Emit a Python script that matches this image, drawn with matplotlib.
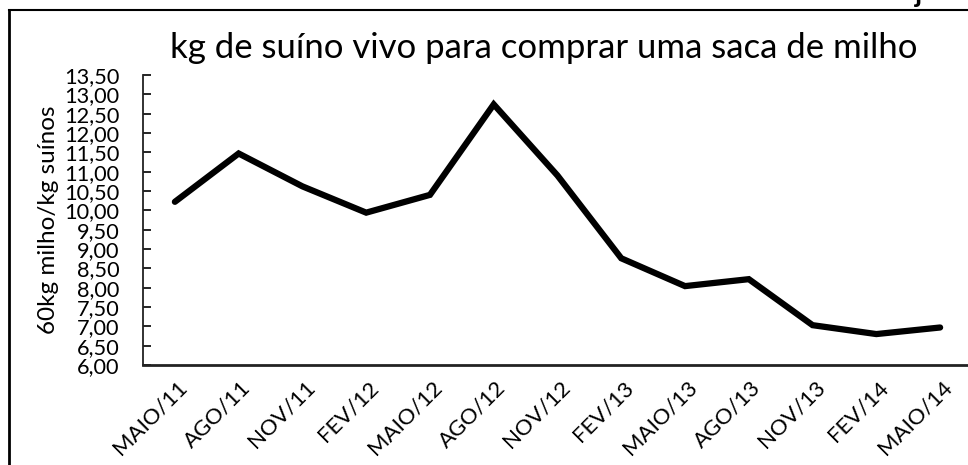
import matplotlib.pyplot as plt
from matplotlib.lines import Line2D
from matplotlib.transforms import ScaledTranslation

meses = ["MAIO/11", "AGO/11", "NOV/11", "FEV/12", "MAIO/12", "AGO/12", "NOV/12",
         "FEV/13", "MAIO/13", "AGO/13", "NOV/13", "FEV/14", "MAIO/14"]
kg_suino = [10.22, 11.47, 10.62, 9.94, 10.40, 12.74, 10.90,
            8.76, 8.04, 8.22, 7.03, 6.80, 6.97]
y_ticks = [6.0 + 0.5 * i for i in range(16)]

plt.rcParams["font.family"] = ["Lato", "DejaVu Sans"]

fig = plt.figure(figsize=(9.68, 4.65), dpi=100)
W, H = 968, 465

# axes: y axis at x=143, x axis at y=365, top (13,50) at y=75
ax = fig.add_axes([143 / W, 1 - 365 / H, (972 - 143) / W, (365 - 75) / H])
x = list(range(len(meses)))
ax.plot(x, kg_suino, color="black", lw=4.5, solid_joinstyle="miter", solid_capstyle="round")

ax.set_xlim(-0.5, 12.5)
ax.set_ylim(6, 13.5)
ax.set_yticks(y_ticks)
ax.set_yticklabels([f"{v:.2f}".replace(".", ",") for v in y_ticks], fontsize=15.7)
ax.set_xticks(x)
ax.set_xticklabels(meses, rotation=45, ha="right", va="center", rotation_mode="anchor", fontsize=16)
ax.tick_params(axis="y", direction="in", length=6, width=1.2, pad=17)
ax.tick_params(axis="x", length=0, pad=14)
shift = ScaledTranslation(9 / 100, 0, fig.dpi_scale_trans)
for lbl in ax.get_xticklabels():
    lbl.set_transform(lbl.get_transform() + shift)

for s in ["top", "right"]:
    ax.spines[s].set_visible(False)
ax.spines["left"].set_linewidth(1.3)
ax.spines["bottom"].set_linewidth(2)
ax.spines["left"].set_color("#222222")
ax.spines["bottom"].set_color("#222222")

ax.set_ylabel("60kg milho/kg suínos", fontsize=17.5)
ax.yaxis.set_label_coords(-84 / (972 - 143), (365 - 220) / (365 - 75))

fig.text(544 / W, 1 - 48 / H, "kg de suíno vivo para comprar uma saca de milho",
         fontsize=25, ha="center", va="center")

# chart frame, cut off at the right and bottom
fig.add_artist(Line2D([9 / W, 9 / W], [0, 1 - 10 / H], color="black", lw=2, transform=fig.transFigure))
fig.add_artist(Line2D([9 / W, 1], [1 - 10 / H, 1 - 10 / H], color="black", lw=1.5, transform=fig.transFigure))

# fragment of text above the frame
fig.text(918 / W, 1 - 2 / H, "j", fontsize=20, fontweight="bold", ha="center", va="baseline")

fig.savefig("out.png", dpi=100)
